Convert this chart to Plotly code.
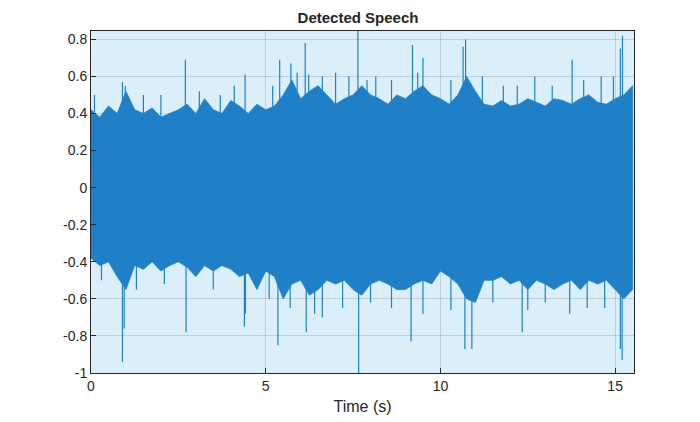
import numpy as np
import plotly.graph_objects as go

# envelope of the waveform, sampled every 0.25 s from 0 to 15.5 s
env_t = [i * 0.25 for i in range(63)]
env_top = [0.42, 0.38, 0.44, 0.40, 0.52, 0.42, 0.40, 0.43, 0.38, 0.40, 0.42,
           0.45, 0.40, 0.48, 0.42, 0.40, 0.47, 0.44, 0.40, 0.45, 0.42,
           0.44, 0.50, 0.58, 0.48, 0.52, 0.55, 0.50, 0.45, 0.48, 0.50,
           0.55, 0.50, 0.48, 0.45, 0.50, 0.48, 0.52, 0.55, 0.50, 0.48,
           0.45, 0.50, 0.60, 0.52, 0.45, 0.44, 0.47, 0.44, 0.45, 0.48,
           0.46, 0.44, 0.48, 0.47, 0.45, 0.48, 0.50, 0.46, 0.45, 0.48, 0.50, 0.55]
env_bot = [-0.38, -0.42, -0.40, -0.48, -0.55, -0.42, -0.44, -0.40, -0.45, -0.42, -0.40,
           -0.43, -0.48, -0.42, -0.45, -0.42, -0.44, -0.48, -0.46, -0.55, -0.45,
           -0.48, -0.60, -0.52, -0.50, -0.58, -0.55, -0.50, -0.52, -0.50, -0.55,
           -0.58, -0.52, -0.50, -0.52, -0.55, -0.55, -0.52, -0.50, -0.52, -0.45,
           -0.48, -0.52, -0.60, -0.62, -0.50, -0.50, -0.48, -0.52, -0.50, -0.55,
           -0.50, -0.52, -0.55, -0.52, -0.50, -0.55, -0.50, -0.52, -0.50, -0.55, -0.60, -0.55]

# individual peaks sticking out of the envelope
up_t = [0.1, 0.9, 0.98, 1.5, 2.0, 2.7, 3.1, 3.7, 4.1, 4.41, 5.2, 5.4, 5.72, 5.9, 6.13, 6.23,
        6.62, 7.0, 7.38, 7.64, 7.9, 8.15, 8.6, 9.2, 9.35, 9.5, 10.3, 10.65, 10.72, 11.2,
        11.8, 12.2, 12.7, 13.2, 13.77, 14.1, 14.6, 14.95, 15.15, 15.21]
up_v = [0.5, 0.57, 0.55, 0.5, 0.5, 0.69, 0.52, 0.5, 0.55, 0.61, 0.55, 0.69, 0.67, 0.62, 0.78,
        0.61, 0.6, 0.62, 0.6, 0.85, 0.58, 0.6, 0.58, 0.77, 0.62, 0.7, 0.58, 0.76, 0.8, 0.6,
        0.55, 0.55, 0.6, 0.55, 0.69, 0.58, 0.6, 0.6, 0.75, 0.82]
dn_t = [0.3, 0.9, 0.95, 1.3, 2.1, 2.72, 3.5, 4.39, 4.42, 5.1, 5.35, 5.7, 6.16, 6.4, 6.62,
        7.2, 7.66, 8.0, 8.6, 9.16, 9.5, 10.3, 10.7, 10.9, 11.5, 12.34, 12.5, 13.0, 13.7,
        14.2, 14.7, 15.15, 15.2]
dn_v = [-0.5, -0.94, -0.76, -0.55, -0.52, -0.78, -0.55, -0.75, -0.68, -0.6, -0.85, -0.65,
        -0.78, -0.68, -0.7, -0.65, -1.0, -0.62, -0.65, -0.83, -0.68, -0.66, -0.87, -0.87,
        -0.62, -0.78, -0.66, -0.62, -0.68, -0.65, -0.65, -0.87, -0.93]

blue = "#1f80c8"
font = "Liberation Sans, Arial"
fig = go.Figure()
fig.add_trace(go.Scatter(x=env_t + env_t[::-1], y=env_top + env_bot[::-1], fill="toself",
                         fillcolor=blue, line=dict(color=blue, width=0.8),
                         mode="lines", hoverinfo="skip"))

sx, sy = [], []
for t, v in list(zip(up_t, up_v)) + list(zip(dn_t, dn_v)):
    sx += [t, t, None]
    sy += [0, v, None]
fig.add_trace(go.Scatter(x=sx, y=sy, mode="lines", line=dict(color=blue, width=1.2)))

axis = dict(showline=True, linecolor="#262626", linewidth=1, mirror=True, ticks="inside",
            ticklen=5, tickcolor="#262626", showgrid=True, gridcolor="rgba(0,0,0,0.13)",
            zeroline=False, tickfont=dict(family=font, size=14, color="#262626"))
fig.update_layout(
    width=700, height=422, showlegend=False,
    paper_bgcolor="white", plot_bgcolor="#dbeffa",
    margin=dict(l=83, r=74, t=23, b=57),
    title=dict(text="<b>Detected Speech</b>", x=0.5, xanchor="center", y=0.99,
               font=dict(family=font, size=15, color="#262626")),
    xaxis=dict(axis, range=[0, 15.54], tickvals=[0, 5, 10, 15],
               title=dict(text="Time (s)", standoff=8,
                          font=dict(family=font, size=16, color="#262626"))),
    yaxis=dict(axis, range=[-1, 0.845], tickvals=[-1, -0.8, -0.6, -0.4, -0.2, 0, 0.2, 0.4, 0.6, 0.8],
               ticktext=["-1", "-0.8", "-0.6", "-0.4", "-0.2", "0", "0.2", "0.4", "0.6", "0.8"]),
)
fig.write_html("out.html")
